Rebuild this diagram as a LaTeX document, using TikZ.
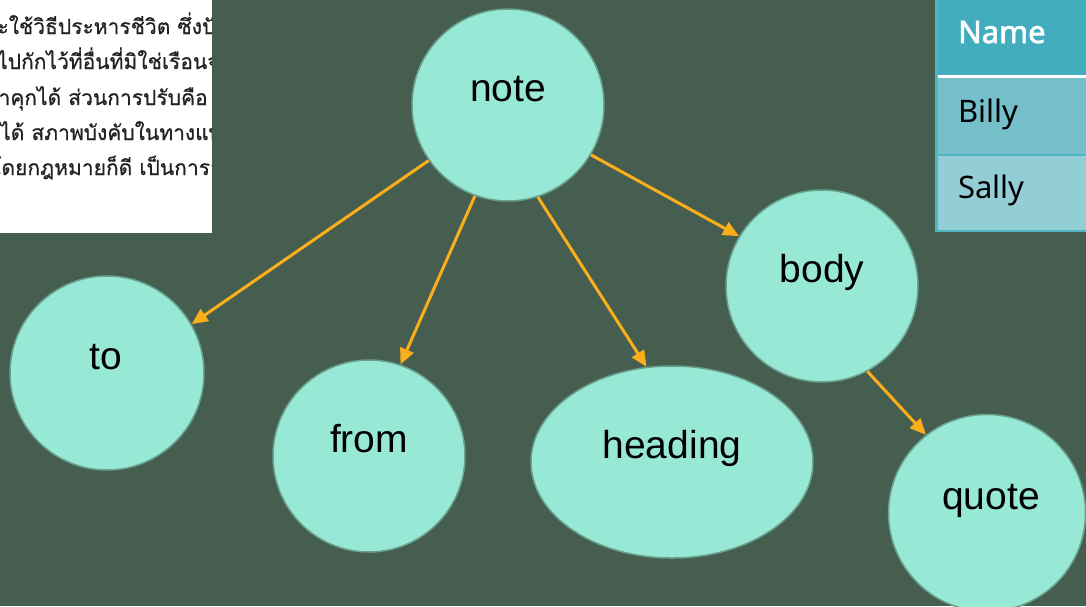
\documentclass[tikz,border=0pt]{standalone}
\usepackage{fontspec}
\setmainfont{Liberation Sans}
\newfontfamily\thaifont[Script=Thai,FakeBold=0.6]{Loma}
\newfontfamily\tblfont{Noto Sans}
\newfontfamily\tblboldfont[FakeBold=2.2]{Noto Sans}
\usetikzlibrary{arrows.meta,shapes.geometric}
\definecolor{bgc}{RGB}{70,94,80}
\definecolor{cfill}{RGB}{152,232,214}
\definecolor{cline}{RGB}{104,160,142}
\definecolor{arr}{RGB}{250,174,28}
\definecolor{thead}{RGB}{65,173,189}
\definecolor{trow1}{RGB}{116,191,201}
\definecolor{trow2}{RGB}{147,205,214}
\definecolor{tline}{RGB}{79,181,195}
\definecolor{thaitext}{RGB}{35,35,35}
\tikzset{
  circ/.style={circle, draw=cline, line width=1.5pt, fill=cfill, minimum size=#1, inner sep=0pt},
  ell/.style={ellipse, draw=cline, line width=1.5pt, fill=cfill, minimum width=282pt, minimum height=192pt, inner sep=0pt},
  lbl/.style={anchor=base, font=\fontsize{39}{44}\selectfont, text=black, inner sep=0pt},
  conn/.style={draw=arr, line width=3pt, -{Triangle[length=16pt,width=14pt]}},
  thai/.style={anchor=base west, font=\thaifont\fontsize{21}{24}\selectfont, text=thaitext, inner sep=0pt},
  tcell/.style={anchor=base west, font=\tblfont\fontsize{31}{36}\selectfont, text=black, inner sep=0pt},
  thcell/.style={anchor=base west, font=\tblboldfont\fontsize{31}{36}\selectfont, text=white, inner sep=0pt}
}
\begin{document}
\begin{tikzpicture}[x=1pt,y=-1pt]
\useasboundingbox (0,0) rectangle (1086,606);
\clip (0,0) rectangle (1086,606);
\fill[bgc] (0,0) rectangle (1086,606);
% Thai text box
\begin{scope}
\clip (0,0) rectangle (212,233);
\fill[white] (0,0) rectangle (212,233);
\node[thai] (t1) at (-15,34) {จะใช้วิธีประหารชีวิต ซึ่งปัจจุบัน};
\node[thai] (t2) at (-3,69) {ไปกักไว้ที่อื่นที่มิใช่เรือนจำ};
\node[thai] (t3) at (-14,105) {จำคุกได้ ส่วนการปรับคือ};
\node[thai] (t4) at (0,140) {ได้ สภาพบังคับในทางแพ่ง};
\node[thai] (t5) at (-10,175) {โดยกฎหมายก็ดี เป็นการลงโทษ};
\end{scope}
% table
\fill[thead] (936,0) rectangle (1086,75);
\fill[white] (936,75) rectangle (1086,78);
\fill[trow1] (936,78) rectangle (1086,154);
\fill[tline] (936,154) rectangle (1086,156);
\fill[trow2] (936,156) rectangle (1086,230);
\fill[tline] (936,230) rectangle (1086,232);
\fill[tline] (935,0) rectangle (938,232);
\node[thcell] (hname) at (958,43) {Name};
\node[tcell] (billy) at (958,122) {Billy};
\node[tcell] (sally) at (958,198) {Sally};
% nodes
\node[circ=192pt] (note) at (508,105) {};
\node[circ=194pt] (to) at (107,373) {};
\node[circ=192pt] (from) at (369,456) {};
\node[ell] (heading) at (672,462) {};
\node[circ=192pt] (body) at (822,286) {};
\node[circ=197pt] (quote) at (987,513) {};
\node[lbl] (noteL) at ([yshift=4pt]note.center) {note};
\node[lbl] (toL) at ([xshift=-1pt,yshift=4pt]to.center) {to};
\node[lbl] (fromL) at ([yshift=4pt]from.center) {from};
\node[lbl] (headingL) at ([yshift=4pt]heading.center) {heading};
\node[lbl] (bodyL) at ([yshift=4pt]body.center) {body};
\node[lbl] (quoteL) at ([xshift=4pt,yshift=4pt]quote.center) {quote};
% connectors
\draw[conn] (note.215) -- (to.30);
\draw[conn] (note.250) -- (from.71);
\draw[conn] (note.288) -- (heading.105);
\draw[conn] (note.329) -- (body.149);
\draw[conn] (body.298) -- (quote.128);
\end{tikzpicture}
\end{document}
